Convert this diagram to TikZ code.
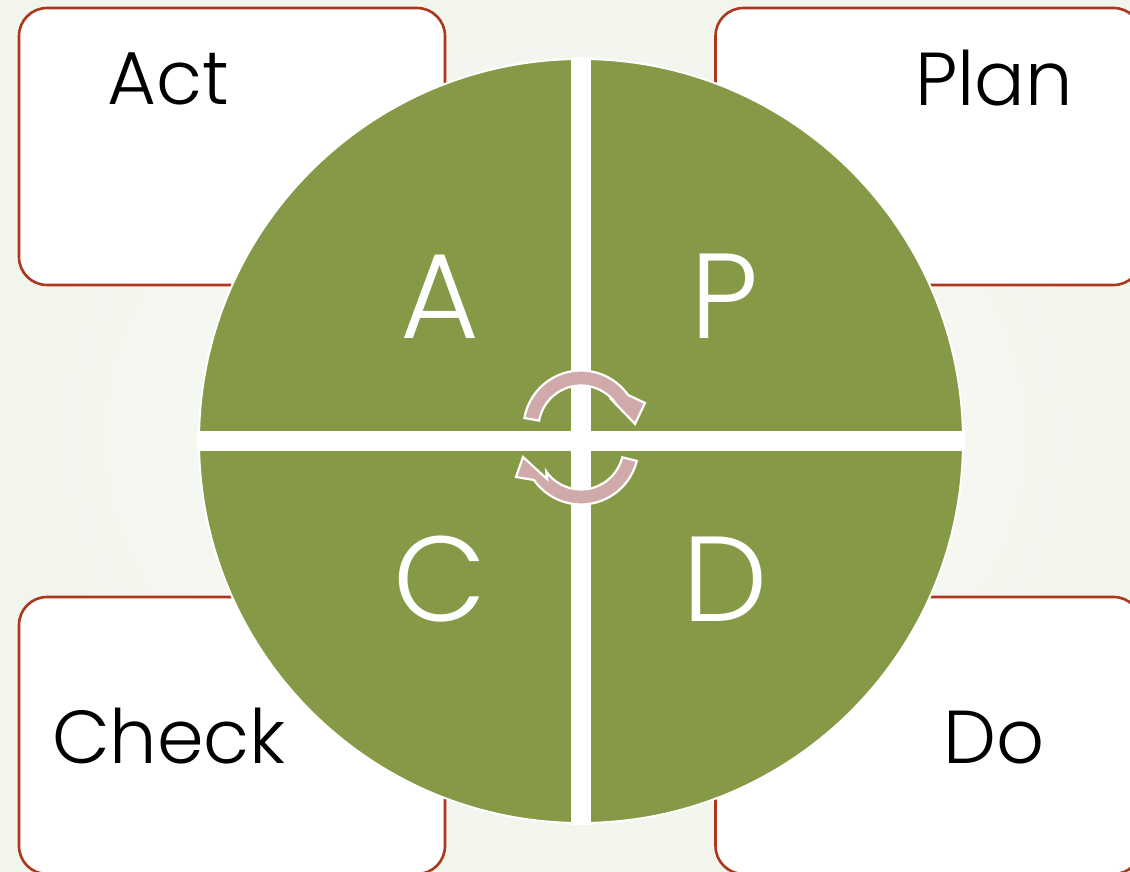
\documentclass[tikz,border=0pt]{standalone}
\usepackage{fontspec}
\setmainfont{Poppins Light}
\usetikzlibrary{calc}
\definecolor{bgin}{RGB}{252,252,250}
\definecolor{bgout}{RGB}{242,245,236}
\definecolor{boxline}{RGB}{170,55,30}
\definecolor{leaf}{RGB}{133,153,70}
\definecolor{rose}{RGB}{208,170,171}
\begin{document}
\begin{tikzpicture}[x=1pt,y=1pt,
  card/.style={draw=boxline, line width=2.6pt, fill=white, rounded corners=28pt,
    rectangle, inner sep=0pt, minimum width=426pt, minimum height=277pt},
  biglet/.style={text=white, anchor=base, inner sep=0pt, font=\fontsize{121}{121}\selectfont},
  word/.style={text=black, anchor=base, inner sep=0pt, font=\fontsize{75}{75}\selectfont},
  cyclearrow/.style={fill=rose, draw=white, line width=2.2pt, line join=miter}]
\shade[inner color=bgin, outer color=bgout] (0,0) rectangle (1130,871);
\useasboundingbox (0,0) rectangle (1130,871);
% cards
\node[card] (actbox) at (232,724.5) {};
\node[card] (planbox) at (928.5,724.5) {};
\node[card] (checkbox) at (232,135.5) {};
\node[card] (dobox) at (928.5,135.5) {};
% circle
\coordinate (c) at (581,430);
\fill[leaf, draw=white, line width=2pt] (c) circle[radius=382];
\begin{scope}
  \clip (c) circle[radius=384];
  \fill[white] (571,40) rectangle (591,820);
  \fill[white] (190,420) rectangle (972,440);
\end{scope}
% letters
\node[biglet] (A) at (440,532) {A};
\node[biglet] (P) at (725,532) {P};
\node[biglet] (C) at (440,250) {C};
\node[biglet] (D) at (725,250) {D};
% words
\node[word] (act) at (168,766) {Act};
\node[word] (plan) at (994,765) {Plan};
\node[word] (check) at (169,108) {Check};
\node[word] (do) at (994.5,108) {Do};
% cycle arrows
\coordinate (cu) at (581,443);
\coordinate (cl) at (581,424);
\path[cyclearrow] ($(cu)+(170:57.5)$) arc[start angle=170, end angle=35, radius=57.5]
  -- ($(cu)+(64,25)$) -- ($(cu)+(54,4)$) -- ($(cu)+(29,30)$)
  -- ($(cu)+(35:42.5)$) arc[start angle=35, end angle=170, radius=42.5] -- cycle;
\path[cyclearrow] ($(cl)+(-14:57.5)$) arc[start angle=-14, end angle=-145, radius=57.5]
  -- ($(cl)+(-65,-30)$) -- ($(cl)+(-58,-10)$) -- ($(cl)+(-34,-32)$)
  -- ($(cl)+(-145:42.5)$) arc[start angle=-145, end angle=-14, radius=42.5] -- cycle;
\end{tikzpicture}
\end{document}
